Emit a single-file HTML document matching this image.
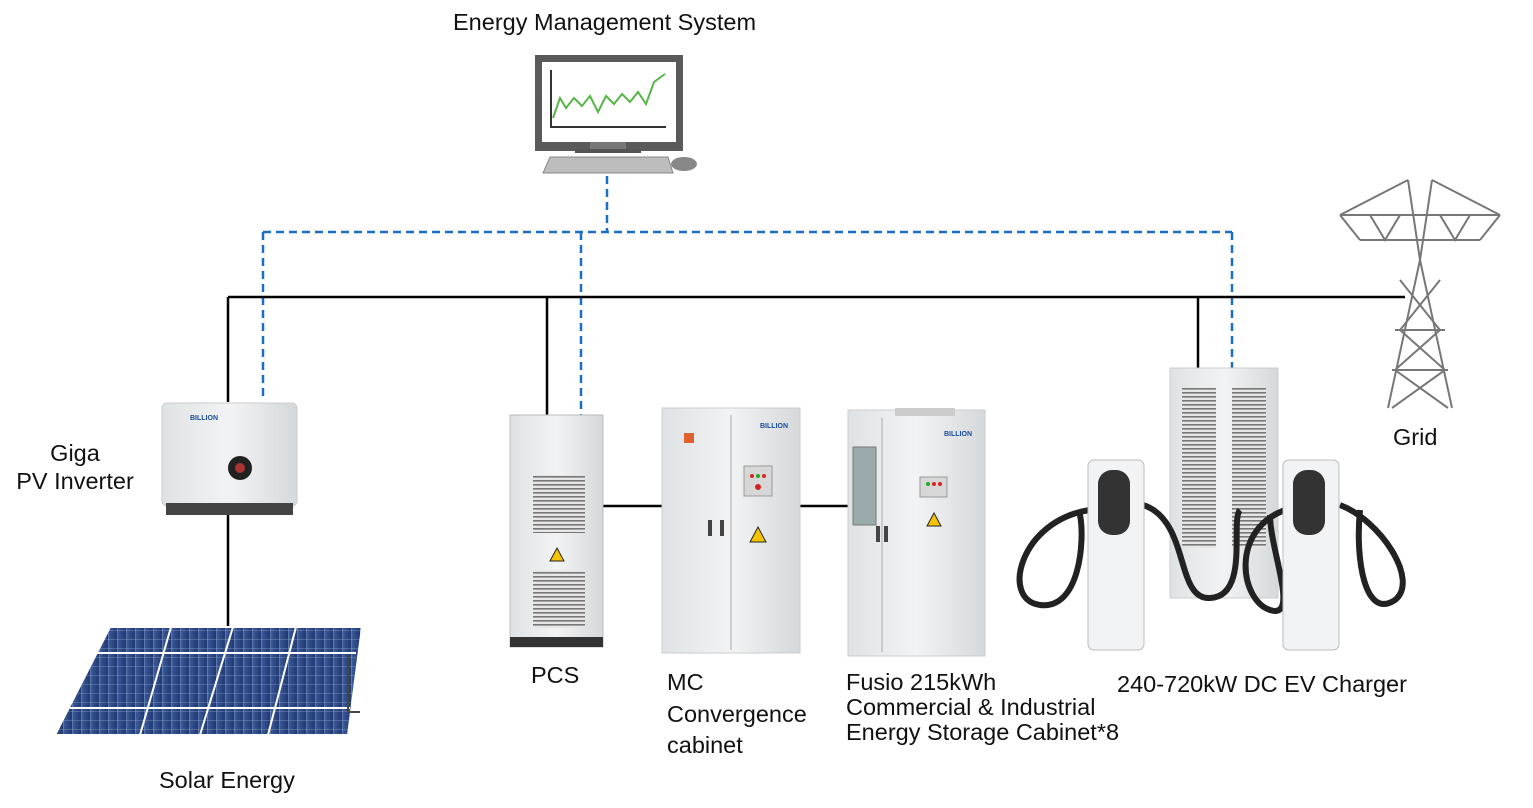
<!DOCTYPE html>
<html><head><meta charset="utf-8"><style>
html,body{margin:0;padding:0;background:#fff;}
body{width:1533px;height:808px;position:relative;overflow:hidden;font-family:"Liberation Sans","DejaVu Sans",sans-serif;color:#111;}
.t{position:absolute;font-size:23.5px;line-height:25px;white-space:nowrap;}
</style></head><body>
<svg width="1533" height="808" style="position:absolute;left:0;top:0">
<defs>
<linearGradient id="cab" x1="0" x2="1"><stop offset="0" stop-color="#dfe2e4"/><stop offset="0.5" stop-color="#f2f3f4"/><stop offset="1" stop-color="#d5d8da"/></linearGradient>
<linearGradient id="pv" x1="0" x2="1"><stop offset="0" stop-color="#3d5d9e"/><stop offset="1" stop-color="#20386f"/></linearGradient>
<pattern id="grill" width="6" height="4" patternUnits="userSpaceOnUse"><rect width="6" height="4" fill="#e6e6e6"/><rect width="6" height="1.6" fill="#777"/></pattern>
<pattern id="pvgrid" width="9" height="9" patternUnits="userSpaceOnUse"><rect width="9" height="9" fill="url(#pv)"/><path d="M0 0H9M0 0V9" stroke="#8fa3cc" stroke-width="0.8"/></pattern>
</defs>
<g stroke="#1a6fc4" stroke-width="2.5" stroke-dasharray="8,5" fill="none">
<path d="M607 176V232M263 232H1232M263 232V400M581 232V415M1232 232V368"/>
</g>
<g stroke="#000" stroke-width="2.5" fill="none">
<path d="M228 297H1405M228 297V402M228 515V628M547 297V415M1198 297V370M600 506H662M800 506H848"/>
</g>
<rect x="535" y="55" width="148" height="96" fill="#5a5a5a"/>
<rect x="542" y="62" width="134" height="80" fill="#fff"/>
<path d="M551 70V127H666" stroke="#333" stroke-width="2" fill="none"/>
<polyline points="553,118 560,98 566,108 574,98 582,106 590,96 598,112 606,96 614,104 622,94 630,102 638,92 646,104 654,82 665,74" stroke="#58b548" stroke-width="2" fill="none"/>
<rect x="590" y="142" width="36" height="8" fill="#777"/>
<rect x="575" y="149" width="66" height="4" fill="#555"/>
<path d="M550 157H668L673 173H543Z" fill="#bdbdbd" stroke="#888"/>
<ellipse cx="684" cy="164" rx="13" ry="7" fill="#888"/>
<rect x="162" y="403" width="135" height="103" rx="5" fill="url(#cab)" stroke="#ccc"/>
<rect x="166" y="503" width="127" height="12" fill="#444"/>
<circle cx="240" cy="468" r="12" fill="#222"/><circle cx="240" cy="468" r="5" fill="#a33"/>
<text x="190" y="420" font-size="7" fill="#1a4a9a" font-weight="bold">BILLION</text>
<g stroke="#fff" stroke-width="2">
<path d="M110 627H362L348 735H55Z" fill="url(#pvgrid)"/>
<path d="M171 627L140 735M233 627L200 735M296 627L268 735M80 653H356M70 708H350" fill="none"/>
</g>
<path d="M348 655V712M350 712H360" stroke="#444" stroke-width="2"/>
<rect x="510" y="415" width="93" height="232" fill="url(#cab)" stroke="#bbb"/>
<rect x="510" y="637" width="93" height="10" fill="#333"/>
<rect x="533" y="475" width="52" height="58" fill="url(#grill)"/>
<rect x="533" y="570" width="52" height="58" fill="url(#grill)"/>
<path d="M557 548L564 561H550Z" fill="#f5c400" stroke="#222"/>
<rect x="662" y="408" width="138" height="245" fill="url(#cab)" stroke="#ccc"/>
<line x1="731" y1="415" x2="731" y2="650" stroke="#aaa"/>
<rect x="744" y="466" width="28" height="30" fill="#d7d7d7" stroke="#999"/>
<circle cx="752" cy="476" r="2" fill="#d22"/><circle cx="758" cy="476" r="2" fill="#2a2"/><circle cx="764" cy="476" r="2" fill="#d22"/>
<circle cx="758" cy="487" r="3" fill="#c22"/>
<rect x="684" y="433" width="10" height="10" fill="#e06030"/>
<rect x="708" y="520" width="4" height="16" fill="#444"/><rect x="720" y="520" width="4" height="16" fill="#444"/>
<path d="M758 527L766 542H750Z" fill="#f5c400" stroke="#222"/>
<text x="760" y="428" font-size="7" fill="#1a4a9a" font-weight="bold">BILLION</text>
<rect x="848" y="410" width="137" height="246" fill="url(#cab)" stroke="#ccc"/>
<rect x="895" y="408" width="60" height="8" fill="#ccc"/>
<rect x="853" y="447" width="23" height="78" fill="#9aa" stroke="#777"/>
<line x1="882" y1="418" x2="882" y2="652" stroke="#aaa"/>
<rect x="920" y="477" width="27" height="20" fill="#d7d7d7" stroke="#999"/>
<circle cx="928" cy="484" r="2" fill="#2a2"/><circle cx="934" cy="484" r="2" fill="#d22"/><circle cx="940" cy="484" r="2" fill="#d22"/>
<rect x="876" y="526" width="4" height="16" fill="#444"/><rect x="884" y="526" width="4" height="16" fill="#444"/>
<path d="M934 513L941 526H927Z" fill="#f5c400" stroke="#222"/>
<text x="944" y="436" font-size="7" fill="#1a4a9a" font-weight="bold">BILLION</text>
<rect x="1170" y="368" width="108" height="230" fill="url(#cab)" stroke="#ccc"/>
<rect x="1182" y="388" width="34" height="160" fill="url(#grill)"/>
<rect x="1232" y="388" width="34" height="160" fill="url(#grill)"/>
<g stroke="#222" stroke-width="6" fill="none">
<path d="M1090 510C1020 520 1000 600 1040 605C1080 610 1085 540 1080 515"/>
<path d="M1143 505C1190 520 1175 600 1210 598C1250 596 1230 520 1240 510"/>
<path d="M1285 510C1230 530 1240 600 1270 610C1300 620 1270 550 1270 515"/>
<path d="M1340 505C1380 520 1420 580 1395 600C1365 620 1355 560 1360 510"/>
</g>
<rect x="1088" y="460" width="56" height="190" rx="6" fill="#f2f3f4" stroke="#bbb"/>
<rect x="1098" y="470" width="32" height="65" rx="14" fill="#333"/>
<rect x="1283" y="460" width="56" height="190" rx="6" fill="#f2f3f4" stroke="#bbb"/>
<rect x="1293" y="470" width="32" height="65" rx="14" fill="#333"/>
<g stroke="#777" stroke-width="2" fill="none">
<path d="M1408 180L1420 260L1388 408M1432 180L1420 260L1452 408M1340 215H1500M1360 240H1480M1340 215L1360 240M1500 215L1480 240M1408 180L1340 215M1432 180L1500 215M1395 330H1445M1392 370H1448M1400 280L1440 330L1395 370L1448 408M1440 280L1400 330L1445 370L1392 408M1370 215L1385 240L1400 215M1470 215L1455 240L1440 215"/>
</g>
</svg>
<div class="t" style="left:453px;top:10px">Energy Management System</div>
<div class="t" style="left:16px;top:439px;width:118px;text-align:center;line-height:28px">Giga<br>PV Inverter</div>
<div class="t" style="left:159px;top:768px">Solar Energy</div>
<div class="t" style="left:531px;top:663px">PCS</div>
<div class="t" style="left:667px;top:667px;line-height:31.5px">MC<br>Convergence<br>cabinet</div>
<div class="t" style="left:846px;top:670px">Fusio 215kWh<br>Commercial &amp; Industrial<br>Energy Storage Cabinet*8</div>
<div class="t" style="left:1117px;top:672px">240-720kW DC EV Charger</div>
<div class="t" style="left:1393px;top:425px">Grid</div>
</body></html>
